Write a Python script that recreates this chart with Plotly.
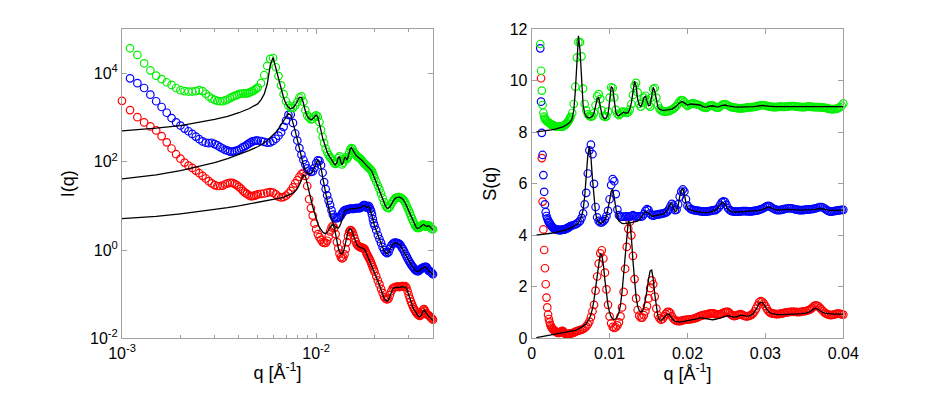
import plotly.graph_objects as go

# ---------------- data (q in units of 1e-3 A^-1) ----------------
q_data_milli = [
    1.0, 1.1, 1.2, 1.3, 1.4, 1.5, 1.6, 1.7, 1.8, 1.9,
    2.0, 2.1, 2.2, 2.3, 2.4, 2.5, 2.6, 2.7, 2.8, 2.9,
    3.0, 3.1, 3.2, 3.3, 3.4, 3.5, 3.6, 3.7, 3.8, 3.9,
    4.0, 4.1, 4.2, 4.3, 4.4, 4.5, 4.6, 4.7, 4.8, 4.9,
    5.0,
    5.2, 5.4, 5.6, 5.8, 6.0,
    6.2, 6.4, 6.6, 6.8, 7.0, 7.2, 7.4, 7.6, 7.8, 8.0,
    8.2, 8.4, 8.6, 8.8, 9.0, 9.2, 9.4, 9.6, 9.8, 10.0,
    10.2, 10.4, 10.6, 10.8, 11.0, 11.2, 11.4, 11.6, 11.8, 12.0,
    12.2, 12.4, 12.6, 12.8, 13.0, 13.2, 13.4, 13.6, 13.8, 14.0,
    14.2, 14.4, 14.6, 14.8, 15.0, 15.2, 15.4, 15.6, 15.8, 16.0,
    16.2, 16.4, 16.6, 16.8, 17.0, 17.2, 17.4, 17.6, 17.8, 18.0,
    18.2, 18.4, 18.6, 18.8, 19.0, 19.2, 19.4, 19.6, 19.8, 20.0,
    20.4, 20.8, 21.2, 21.6, 22.0, 22.4, 22.8, 23.2, 23.6, 24.0,
    24.4, 24.8, 25.2, 25.6, 26.0, 26.4, 26.8, 27.2, 27.6, 28.0,
    28.4, 28.8, 29.2, 29.6, 30.0, 30.4, 30.8, 31.2, 31.6, 32.0,
    32.4, 32.8, 33.2, 33.6, 34.0, 34.4, 34.8, 35.2, 35.6, 36.0,
    36.4, 36.8, 37.2, 37.6, 38.0, 38.4, 38.8, 39.2, 39.6, 40.0,
]
# S(q) data are sampled more finely above 0.02 (linear axis)
q_S_milli = q_data_milli[:116] + [
    20.2, 20.4, 20.6, 20.8, 21.0, 21.2, 21.4, 21.6, 21.8, 22.0,
    22.2, 22.4, 22.6, 22.8, 23.0, 23.2, 23.4, 23.6, 23.8, 24.0,
    24.2, 24.4, 24.6, 24.8, 25.0, 25.2, 25.4, 25.6, 25.8, 26.0,
    26.2, 26.4, 26.6, 26.8, 27.0, 27.2, 27.4, 27.6, 27.8, 28.0,
    28.2, 28.4, 28.6, 28.8, 29.0, 29.2, 29.4, 29.6, 29.8, 30.0,
    30.2, 30.4, 30.6, 30.8, 31.0, 31.2, 31.4, 31.6, 31.8, 32.0,
    32.2, 32.4, 32.6, 32.8, 33.0, 33.2, 33.4, 33.6, 33.8, 34.0,
    34.2, 34.4, 34.6, 34.8, 35.0, 35.2, 35.4, 35.6, 35.8, 36.0,
    36.2, 36.4, 36.6, 36.8, 37.0, 37.2, 37.4, 37.6, 37.8, 38.0,
    38.2, 38.4, 38.6, 38.8, 39.0, 39.2, 39.4, 39.6, 39.8, 40.0,
]
q_fit_milli = [
    0.6, 1.0, 1.5, 2.0, 2.5, 3.0, 3.5, 4.0, 4.5, 5.0,
] + q_data_milli[41:]

# log10 I(q), measured
logI_green = [
    None, 4.57, 4.42, 4.23, 4.07, 3.95, 3.87, 3.80, 3.74, 3.67,
    3.62, 3.60, 3.59, 3.59, 3.60, 3.62, 3.60, 3.54, 3.48, 3.43,
    3.40, 3.38, 3.37, 3.37, 3.39, 3.41, 3.44, 3.47, 3.49, 3.51,
    3.53, 3.54, 3.55, 3.55, 3.55, 3.56, 3.58, 3.60, 3.62, 3.65,
    3.68,
    3.78, 3.96, 4.17, 4.33, 4.35,
    4.14, 3.94, 3.73, 3.53, 3.37, 3.27, 3.22, 3.22, 3.27, 3.35,
    3.45, 3.48, 3.36, 3.17, 3.05, 3.00, 2.96, 2.97, 3.02, 3.05,
    3.02, 2.90, 2.72, 2.56, 2.42, 2.30, 2.22, 2.15, 2.10, 2.07,
    2.02, 1.97, 1.95, 1.98, 2.08, 2.12, 2.02, 1.94, 1.98, 2.06,
    2.10, 2.06, 2.10, 2.20, 2.28, 2.31, 2.29, 2.22, 2.19, 2.16,
    2.13, 2.11, 2.09, 2.08, 2.06, 2.03, 2.00, 1.97, 1.95, 1.93,
    1.91, 1.89, 1.87, 1.85, 1.83, 1.81, 1.78, 1.73, 1.68, 1.63,
    1.55, 1.46, 1.38, 1.28, 1.18, 1.08, 1.00, 0.96, 0.95, 0.98,
    1.04, 1.10, 1.14, 1.17, 1.19, 1.20, 1.20, 1.19, 1.17, 1.15,
    1.12, 1.07, 1.01, 0.95, 0.90, 0.84, 0.77, 0.71, 0.65, 0.60,
    0.55, 0.52, 0.50, 0.50, 0.50, 0.52, 0.55, 0.57, 0.58, 0.57,
    0.55, 0.53, 0.53, 0.55, 0.56, 0.55, 0.52, 0.49, 0.47, 0.47,
]
logI_blue = [
    None, 3.89, 3.78, 3.67, 3.52, 3.37, 3.24, 3.11, 2.99, 2.89,
    2.82, 2.75, 2.69, 2.63, 2.57, 2.51, 2.46, 2.43, 2.42, 2.43,
    2.40, 2.37, 2.33, 2.30, 2.27, 2.25, 2.23, 2.23, 2.24, 2.25,
    2.27, 2.30, 2.33, 2.35, 2.38, 2.41, 2.44, 2.46, 2.47, 2.48,
    2.48,
    2.47, 2.45, 2.43, 2.44, 2.47,
    2.52, 2.59, 2.67, 2.79, 2.93, 3.06, 3.07, 2.88, 2.64, 2.48,
    2.31, 2.16, 2.04, 1.94, 1.85, 1.80, 1.77, 1.78, 1.86, 1.97,
    2.03, 2.02, 1.92, 1.75, 1.54, 1.38, 1.24, 1.12, 1.02, 0.90,
    0.80, 0.74, 0.72, 0.72, 0.73, 0.74, 0.78, 0.83, 0.87, 0.90,
    0.91, 0.91, 0.92, 0.93, 0.93, 0.94, 0.93, 0.93, 0.94, 0.95,
    0.95, 0.95, 0.95, 0.95, 0.96, 0.98, 1.00, 1.02, 1.02, 1.00,
    0.96, 0.97, 1.00, 0.98, 0.93, 0.88, 0.80, 0.70, 0.61, 0.55,
    0.45, 0.34, 0.25, 0.16, 0.07, 0.00, -0.05, -0.07, -0.05, 0.03,
    0.10, 0.14, 0.16, 0.17, 0.16, 0.15, 0.14, 0.11, 0.06, 0.02,
    -0.03, -0.09, -0.14, -0.19, -0.24, -0.28, -0.32, -0.36, -0.39, -0.42,
    -0.45, -0.47, -0.48, -0.48, -0.46, -0.44, -0.42, -0.41, -0.40, -0.39,
    -0.38, -0.38, -0.40, -0.44, -0.47, -0.48, -0.49, -0.51, -0.53, -0.55,
]
logI_red = [
    3.38, 3.17, 3.01, 2.89, 2.80, 2.71, 2.58, 2.44, 2.30, 2.17,
    2.07, 1.98, 1.91, 1.86, 1.80, 1.74, 1.68, 1.62, 1.56, 1.51,
    1.47, 1.45, 1.45, 1.46, 1.49, 1.51, 1.52, 1.52, 1.50, 1.47,
    1.43, 1.39, 1.34, 1.30, 1.27, 1.24, 1.22, 1.22, 1.23, 1.24,
    1.26,
    1.27, 1.28, 1.30, 1.31, 1.30,
    1.26, 1.21, 1.19, 1.20, 1.23, 1.28, 1.34, 1.42, 1.51, 1.58,
    1.66, 1.72, 1.75, 1.68, 1.45, 1.15, 0.95, 0.78, 0.60, 0.47,
    0.36, 0.29, 0.23, 0.18, 0.16, 0.16, 0.21, 0.30, 0.42, 0.51,
    0.55, 0.50, 0.36, 0.18, 0.04, -0.08, -0.16, -0.19, -0.17, -0.10,
    0.02, 0.18, 0.32, 0.41, 0.45, 0.44, 0.40, 0.33, 0.26, 0.19,
    0.13, 0.10, 0.08, 0.07, 0.06, 0.05, 0.05, 0.04, 0.02, -0.03,
    -0.08, -0.12, -0.16, -0.20, -0.24, -0.29, -0.34, -0.39, -0.44, -0.49,
    -0.59, -0.69, -0.78, -0.88, -0.97, -1.06, -1.10, -1.12, -1.10, -1.02,
    -0.93, -0.87, -0.85, -0.84, -0.83, -0.83, -0.84, -0.83, -0.82, -0.82,
    -0.83, -0.82, -0.85, -0.93, -1.02, -1.10, -1.17, -1.23, -1.29, -1.34,
    -1.38, -1.42, -1.45, -1.47, -1.49, -1.49, -1.46, -1.40, -1.35, -1.34,
    -1.38, -1.43, -1.46, -1.47, -1.48, -1.50, -1.52, -1.54, -1.56, -1.58,
]

# log10 I(q), model fit
logI_fit_green = [
    None, 2.70, 2.76, 2.82, 2.89, 2.96, 3.03, 3.11, 3.20, 3.31,
    3.40, 3.53, 3.76, 4.18, 4.36,
    4.12, 3.87, 3.64, 3.45, 3.31, 3.23, 3.20, 3.22, 3.28, 3.37,
    3.46, 3.46, 3.33, 3.15, 3.03, 2.98, 2.95, 2.97, 3.03, 3.06,
    3.01, 2.88, 2.70, 2.54, 2.41, 2.30, 2.22, 2.15, 2.09, 2.05,
    2.00, 1.95, 1.93, 1.98, 2.10, 2.11, 2.00, 1.93, 1.99, 2.08,
    2.10, 2.04, 2.10, 2.22, 2.30, 2.32, 2.28, 2.21, 2.18, 2.15,
    2.13, 2.11, 2.09, 2.08, 2.06, 2.04, 2.01, 1.98, 1.96, 1.94,
    1.92, 1.90, 1.88, 1.86, 1.84, 1.81, 1.78, 1.73, 1.67, 1.62,
    1.54, 1.45, 1.37, 1.27, 1.17, 1.07, 0.99, 0.95, 0.95, 0.98,
    1.04, 1.10, 1.14, 1.17, 1.19, 1.20, 1.20, 1.19, 1.17, 1.15,
    1.11, 1.06, 1.00, 0.94, 0.89, 0.83, 0.77, 0.71, 0.65, 0.59,
    0.54, 0.51, 0.49, 0.49, 0.50, 0.52, 0.55, 0.57, 0.58, 0.57,
    0.55, 0.53, 0.53, 0.54, 0.55, 0.54, 0.51, 0.49, 0.47, 0.46,
]
logI_fit_blue = [
    None, 1.61, 1.70, 1.80, 1.89, 1.98, 2.07, 2.16, 2.25, 2.34,
    2.38, 2.43, 2.48, 2.54, 2.60,
    2.67, 2.75, 2.84, 2.94, 3.03, 3.09, 3.06, 2.90, 2.70, 2.50,
    2.30, 2.10, 1.92, 1.80, 1.74, 1.72, 1.74, 1.79, 1.88, 1.98,
    2.04, 2.00, 1.86, 1.65, 1.45, 1.27, 1.10, 0.95, 0.82, 0.71,
    0.62, 0.56, 0.52, 0.50, 0.50, 0.53, 0.60, 0.70, 0.80, 0.87,
    0.90, 0.91, 0.92, 0.93, 0.93, 0.93, 0.93, 0.93, 0.94, 0.94,
    0.95, 0.95, 0.95, 0.95, 0.96, 0.98, 1.00, 1.01, 1.01, 0.99,
    0.96, 0.97, 0.99, 0.97, 0.92, 0.86, 0.78, 0.69, 0.60, 0.54,
    0.44, 0.33, 0.24, 0.15, 0.06, -0.02, -0.07, -0.09, -0.06, 0.02,
    0.09, 0.13, 0.15, 0.16, 0.16, 0.15, 0.13, 0.10, 0.06, 0.01,
    -0.04, -0.10, -0.15, -0.20, -0.25, -0.29, -0.33, -0.37, -0.40, -0.43,
    -0.46, -0.48, -0.49, -0.49, -0.47, -0.45, -0.43, -0.41, -0.40, -0.39,
    -0.38, -0.39, -0.41, -0.45, -0.48, -0.49, -0.50, -0.52, -0.54, -0.56,
]
logI_fit_red = [
    None, 0.71, 0.76, 0.82, 0.87, 0.92, 0.96, 1.00, 1.04, 1.08,
    1.09, 1.10, 1.12, 1.13, 1.14,
    1.16, 1.17, 1.18, 1.20, 1.22, 1.24, 1.26, 1.29, 1.33, 1.39,
    1.48, 1.60, 1.70, 1.68, 1.52, 1.33, 1.15, 0.98, 0.83, 0.70,
    0.60, 0.51, 0.45, 0.41, 0.38, 0.38, 0.40, 0.45, 0.51, 0.56,
    0.57, 0.50, 0.36, 0.19, 0.05, -0.04, -0.08, -0.08, -0.04, 0.05,
    0.18, 0.32, 0.42, 0.47, 0.48, 0.45, 0.38, 0.30, 0.22, 0.16,
    0.12, 0.09, 0.07, 0.06, 0.05, 0.05, 0.04, 0.03, 0.01, -0.04,
    -0.09, -0.13, -0.17, -0.21, -0.25, -0.30, -0.35, -0.40, -0.45, -0.50,
    -0.60, -0.70, -0.80, -0.90, -1.00, -1.09, -1.14, -1.16, -1.13, -1.04,
    -0.94, -0.88, -0.86, -0.85, -0.84, -0.84, -0.85, -0.84, -0.83, -0.83,
    -0.84, -0.84, -0.87, -0.95, -1.04, -1.12, -1.19, -1.25, -1.31, -1.36,
    -1.40, -1.44, -1.47, -1.50, -1.51, -1.51, -1.48, -1.42, -1.37, -1.36,
    -1.39, -1.44, -1.47, -1.49, -1.50, -1.52, -1.54, -1.56, -1.58, -1.60,
]

# S(q), measured (grid q_S_milli)
S_green = [
    None, 11.43, 10.39, 9.62, 9.06, 8.76, 8.61, 8.53, 8.48, 8.45,
    8.42, 8.39, 8.37, 8.35, 8.33, 8.31, 8.29, 8.27, 8.26, 8.25,
    8.24, 8.23, 8.23, 8.22, 8.22, 8.22, 8.22, 8.22, 8.22, 8.22,
    8.23, 8.25, 8.27, 8.29, 8.32, 8.35, 8.39, 8.43, 8.48, 8.54,
    8.60,
    8.75, 9.10, 9.77, 10.90, 11.50,
    11.50, 10.95, 9.70, 9.10, 8.85, 8.70, 8.64, 8.61, 8.63, 8.75,
    9.05, 9.40, 9.48, 9.30, 8.85, 8.64, 8.60, 8.62, 8.80, 9.35,
    9.75, 9.72, 9.35, 8.87, 8.72, 8.67, 8.72, 8.79, 8.80, 8.77,
    8.75, 8.78, 8.88, 9.10, 9.45, 9.80, 9.92, 9.55, 9.10, 9.00,
    9.15, 9.35, 9.42, 9.25, 9.05, 9.00, 9.35, 9.68, 9.72, 9.35,
    9.05, 8.92, 8.85, 8.82, 8.80, 8.80, 8.82, 8.82, 8.85, 8.88,
    8.92, 8.97, 9.03, 9.12, 9.20, 9.25, 9.24, 9.17, 9.08, 9.02,
    9.06, 9.10, 9.12, 9.12, 9.10, 9.08, 9.07, 9.05, 9.01, 8.98,
    8.96, 8.95, 8.99, 9.03, 9.05, 9.05, 9.01, 8.98, 8.96, 8.96,
    9.01, 9.06, 9.09, 9.10, 9.07, 9.04, 9.01, 8.98, 8.97, 8.96,
    8.95, 8.94, 8.93, 8.93, 8.93, 8.94, 8.95, 8.96, 8.97, 8.97,
    8.98, 8.98, 8.99, 9.00, 9.02, 9.03, 9.05, 9.06, 9.05, 9.04,
    9.02, 9.01, 9.00, 8.99, 8.98, 8.98, 8.98, 8.99, 9.00, 9.00,
    8.99, 8.99, 9.00, 9.00, 9.01, 9.02, 9.02, 9.02, 9.01, 9.00,
    8.99, 8.99, 8.98, 8.98, 8.98, 8.99, 9.00, 9.00, 9.00, 8.99,
    8.98, 8.98, 8.98, 8.98, 8.97, 8.97, 8.96, 8.96, 8.94, 8.93,
    8.91, 8.90, 8.90, 8.90, 8.91, 8.92, 8.95, 8.98, 9.04, 9.12,
]
S_blue = [
    None, 11.26, 9.19, 7.98, 7.12, 6.34, 5.69, 5.20, 4.90, 4.75,
    4.66, 4.58, 4.52, 4.47, 4.42, 4.38, 4.34, 4.31, 4.28, 4.26,
    4.24, 4.23, 4.22, 4.21, 4.21, 4.21, 4.20, 4.20, 4.21, 4.21,
    4.22, 4.22, 4.23, 4.24, 4.25, 4.27, 4.28, 4.30, 4.32, 4.34,
    4.36,
    4.38, 4.40, 4.42, 4.45, 4.50,
    4.56, 4.68, 4.85, 5.20, 5.65, 6.40, 7.30, 7.52, 7.15, 6.00,
    5.10, 4.70, 4.56, 4.50, 4.50, 4.55, 4.62, 4.75, 4.95, 5.40,
    5.95, 6.18, 6.10, 5.60, 5.00, 4.78, 4.72, 4.72, 4.72, 4.73,
    4.74, 4.72, 4.72, 4.75, 4.78, 4.74, 4.72, 4.74, 4.74, 4.72,
    4.74, 4.82, 4.95, 5.02, 4.98, 4.85, 4.78, 4.76, 4.78, 4.80,
    4.80, 4.82, 4.83, 4.84, 4.86, 4.88, 4.92, 5.00, 5.12, 5.22,
    5.15, 4.98, 5.00, 5.20, 5.50, 5.70, 5.78, 5.70, 5.40, 5.15,
    5.08, 5.02, 5.00, 4.98, 4.97, 4.96, 4.95, 4.94, 4.93, 4.92,
    4.92, 4.92, 4.93, 4.94, 4.95, 4.97, 4.98, 4.98, 5.02, 5.08,
    5.18, 5.28, 5.32, 5.30, 5.18, 5.05, 4.99, 4.95, 4.93, 4.92,
    4.92, 4.92, 4.92, 4.93, 4.94, 4.94, 4.94, 4.94, 4.93, 4.93,
    4.93, 4.94, 4.95, 4.96, 4.97, 4.99, 5.01, 5.03, 5.06, 5.10,
    5.13, 5.14, 5.12, 5.08, 5.04, 5.01, 4.99, 4.98, 4.98, 4.99,
    5.00, 5.02, 5.03, 5.04, 5.05, 5.05, 5.04, 5.03, 5.01, 5.00,
    4.99, 4.98, 4.98, 4.98, 4.99, 5.00, 5.00, 5.01, 5.01, 5.02,
    5.03, 5.04, 5.06, 5.08, 5.10, 5.10, 5.08, 5.04, 5.00, 4.96,
    4.93, 4.92, 4.93, 4.94, 4.95, 4.96, 4.97, 4.98, 4.99, 4.99,
]
S_red = [
    None, None, 10.10, 7.00, 5.31, 4.23, 3.43, 2.72, 2.10, 1.58,
    1.20, 0.92, 0.75, 0.62, 0.52, 0.45, 0.40, 0.36, 0.33, 0.30,
    0.28, 0.26, 0.24, 0.22, 0.21, 0.21, 0.22, 0.24, 0.27, 0.29,
    0.28, 0.25, 0.21, 0.18, 0.16, 0.15, 0.15, 0.16, 0.17, 0.18,
    0.19,
    0.20, 0.22, 0.25, 0.28, 0.30,
    0.32, 0.34, 0.36, 0.40, 0.46, 0.54, 0.65, 0.82, 1.05, 1.30,
    1.85, 2.40, 2.90, 3.30, 3.42, 3.10, 2.55, 1.90, 1.30, 0.85,
    0.58, 0.44, 0.40, 0.43, 0.50, 0.62, 0.85, 1.20, 1.80, 2.70,
    3.55, 4.25, 4.53, 4.00, 3.20, 2.30, 1.55, 1.10, 0.88, 0.80,
    0.80, 0.90, 1.05, 1.25, 1.55, 1.95, 2.25, 2.10, 1.62, 1.15,
    0.90, 0.78, 0.72, 0.75, 0.85, 0.95, 1.02, 1.03, 0.98, 0.85,
    0.76, 0.70, 0.68, 0.67, 0.67, 0.68, 0.70, 0.71, 0.72, 0.73,
    0.73, 0.74, 0.75, 0.76, 0.78, 0.80, 0.83, 0.86, 0.88, 0.90,
    0.91, 0.92, 0.94, 0.96, 0.97, 0.97, 0.96, 0.94, 0.93, 0.92,
    0.94, 0.96, 0.99, 1.02, 1.03, 1.03, 0.98, 0.92, 0.88, 0.86,
    0.88, 0.90, 0.92, 0.94, 0.92, 0.88, 0.86, 0.85, 0.86, 0.88,
    0.91, 0.96, 1.04, 1.15, 1.28, 1.40, 1.44, 1.42, 1.35, 1.25,
    1.14, 1.05, 1.00, 0.97, 0.96, 0.95, 0.94, 0.94, 0.95, 0.96,
    0.97, 0.99, 1.00, 1.01, 1.02, 1.03, 1.03, 1.03, 1.03, 1.02,
    1.02, 1.02, 1.03, 1.04, 1.05, 1.06, 1.08, 1.10, 1.13, 1.18,
    1.24, 1.28, 1.27, 1.24, 1.18, 1.12, 1.06, 1.00, 0.96, 0.93,
    0.91, 0.90, 0.91, 0.92, 0.94, 0.96, 0.96, 0.95, 0.93, 0.92,
]

# S(q), model fit
S_fit_green = [
    8.02, 8.03, 8.05, 8.07, 8.09, 8.12, 8.16, 8.21, 8.29, 8.42,
    8.55, 8.85, 9.60, 10.80, 11.75,
    11.20, 9.80, 9.05, 8.75, 8.62, 8.57, 8.56, 8.58, 8.63, 8.75,
    8.98, 9.30, 9.35, 9.00, 8.70, 8.57, 8.53, 8.56, 8.72, 9.20,
    9.78, 9.70, 9.10, 8.78, 8.66, 8.65, 8.70, 8.76, 8.78, 8.75,
    8.74, 8.78, 8.90, 9.15, 9.55, 9.98, 9.80, 9.30, 9.05, 9.00,
    9.13, 9.35, 9.40, 9.18, 9.03, 9.05, 9.40, 9.75, 9.60, 9.20,
    8.98, 8.90, 8.86, 8.85, 8.85, 8.86, 8.87, 8.86, 8.88, 8.90,
    8.94, 8.98, 9.02, 9.10, 9.16, 9.19, 9.18, 9.13, 9.08, 9.06,
    9.10, 9.09, 9.08, 9.06, 9.00, 8.97, 9.02, 9.03, 9.00, 8.99,
    9.04, 9.06, 9.03, 9.00, 8.99, 8.98, 8.98, 8.98, 8.98, 8.99,
    9.00, 9.01, 9.03, 9.04, 9.03, 9.01, 9.00, 9.00, 9.00, 9.00,
    9.00, 9.00, 9.00, 9.00, 9.00, 9.00, 9.00, 9.00, 9.00, 9.00,
    9.00, 9.00, 9.00, 9.00, 9.00, 9.00, 9.00, 9.00, 9.00, 9.00,
]
S_fit_blue = [
    4.01, 4.02, 4.04, 4.06, 4.08, 4.10, 4.13, 4.17, 4.22, 4.28,
    4.31, 4.34, 4.38, 4.43, 4.49,
    4.58, 4.72, 5.00, 5.50, 6.30, 7.10, 7.45, 7.05, 6.20, 5.35,
    4.85, 4.60, 4.50, 4.47, 4.48, 4.52, 4.60, 4.75, 5.00, 5.35,
    5.70, 5.78, 5.45, 4.95, 4.68, 4.55, 4.49, 4.46, 4.45, 4.45,
    4.46, 4.47, 4.48, 4.49, 4.50, 4.51, 4.52, 4.55, 4.60, 4.68,
    4.78, 4.88, 4.92, 4.90, 4.84, 4.78, 4.75, 4.74, 4.75, 4.76,
    4.77, 4.78, 4.80, 4.82, 4.85, 4.90, 4.98, 5.10, 5.22, 5.20,
    5.02, 4.92, 4.95, 5.15, 5.50, 5.75, 5.80, 5.60, 5.25, 5.05,
    4.98, 4.94, 4.92, 4.90, 4.88, 4.88, 4.90, 4.93, 4.98, 5.10,
    5.28, 5.22, 5.00, 4.92, 4.90, 4.90, 4.91, 4.92, 4.93, 4.93,
    4.94, 4.95, 4.97, 5.00, 5.06, 5.10, 5.06, 5.00, 4.98, 4.98,
    5.00, 5.01, 5.01, 5.00, 4.99, 4.98, 4.98, 4.99, 5.00, 5.00,
    5.01, 5.03, 5.04, 5.01, 4.98, 4.97, 4.97, 4.98, 4.98, 4.98,
]
S_fit_red = [
    0.03, 0.05, 0.08, 0.10, 0.13, 0.16, 0.18, 0.20, 0.23, 0.26,
    0.27, 0.29, 0.31, 0.33, 0.36,
    0.39, 0.42, 0.46, 0.51, 0.57, 0.65, 0.76, 0.92, 1.15, 1.50,
    1.95, 2.50, 3.00, 3.28, 3.25, 2.85, 2.25, 1.70, 1.28, 1.00,
    0.83, 0.75, 0.73, 0.76, 0.85, 1.00, 1.30, 1.80, 2.50, 3.30,
    4.05, 4.55, 4.50, 3.90, 3.00, 2.20, 1.60, 1.25, 1.08, 1.02,
    1.05, 1.18, 1.45, 1.85, 2.30, 2.62, 2.65, 2.30, 1.70, 1.15,
    0.85, 0.72, 0.70, 0.74, 0.82, 0.90, 0.95, 0.94, 0.86, 0.76,
    0.70, 0.66, 0.64, 0.63, 0.63, 0.64, 0.65, 0.66, 0.67, 0.68,
    0.70, 0.72, 0.75, 0.80, 0.78, 0.74, 0.72, 0.72, 0.74, 0.78,
    0.82, 0.86, 0.88, 0.84, 0.82, 0.84, 0.90, 0.88, 0.86, 0.87,
    0.95, 1.12, 1.36, 1.40, 1.22, 1.04, 0.96, 0.93, 0.92, 0.92,
    0.93, 0.93, 0.94, 0.94, 0.94, 0.95, 0.96, 0.98, 1.02, 1.10,
    1.17, 1.12, 1.03, 0.98, 0.96, 0.95, 0.94, 0.94, 0.94, 0.94,
]

x_ticks_left = [0.001, 0.01]
x_ticktext_left = ["10<sup>-3</sup>", "10<sup>-2</sup>"]
x_minor_left = [0.002, 0.003, 0.004, 0.005, 0.006, 0.007, 0.008, 0.009,
                0.02, 0.03, 0.04]
y_ticks_left = [1e-2, 1e0, 1e2, 1e4]
y_ticktext_left = ["10<sup>-2</sup>", "10<sup>0</sup>", "10<sup>2</sup>", "10<sup>4</sup>"]
x_ticks_right = [0, 0.01, 0.02, 0.03, 0.04]
x_ticktext_right = ["0", "0.01", "0.02", "0.03", "0.04"]
y_ticks_right = [0, 2, 4, 6, 8, 10, 12]

colors = {"red": "#ff0000", "blue": "#0000ff", "green": "#00f000"}

# ---------------- build ----------------
for arr in (logI_green, logI_blue, logI_red):
    assert len(arr) == len(q_data_milli), len(arr)
for arr in (S_green, S_blue, S_red):
    assert len(arr) == len(q_S_milli), len(arr)
for arr in (logI_fit_green, logI_fit_blue, logI_fit_red, S_fit_green, S_fit_blue, S_fit_red):
    assert len(arr) == len(q_fit_milli), len(arr)

q_data = [v / 1000.0 for v in q_data_milli]
q_S = [v / 1000.0 for v in q_S_milli]
q_fit = [v / 1000.0 for v in q_fit_milli]


def pw(vals):
    return [None if v is None else 10 ** v for v in vals]


series = [
    ("red", logI_red, logI_fit_red, S_red, S_fit_red),
    ("blue", logI_blue, logI_fit_blue, S_blue, S_fit_blue),
    ("green", logI_green, logI_fit_green, S_green, S_fit_green),
]

fig = go.Figure()


def marker_style(c):
    return dict(symbol="circle-open", size=7.5, color=c, line=dict(width=1.2, color=c))


for name, li, lif, s, sf in series:
    fig.add_trace(go.Scatter(x=q_data, y=pw(li), mode="markers", marker=marker_style(colors[name]),
                             xaxis="x", yaxis="y", cliponaxis=False, showlegend=False))
    fig.add_trace(go.Scatter(x=q_S, y=s, mode="markers", marker=marker_style(colors[name]),
                             xaxis="x2", yaxis="y2", cliponaxis=False, showlegend=False))
for name, li, lif, s, sf in series:
    fig.add_trace(go.Scatter(x=q_fit, y=pw(lif), mode="lines", line=dict(color="black", width=1.3),
                             xaxis="x", yaxis="y", showlegend=False))
    fig.add_trace(go.Scatter(x=q_fit, y=sf, mode="lines", line=dict(color="black", width=1.3),
                             xaxis="x2", yaxis="y2", showlegend=False))

FONT = "Arial, Liberation Sans, Helvetica, sans-serif"
axcol = "#a0a0a0"
common = dict(showline=True, linecolor=axcol, linewidth=1, mirror="allticks", ticks="inside",
              ticklen=5, tickcolor=axcol, tickwidth=1, showgrid=False, zeroline=False,
              tickfont=dict(family=FONT, size=16, color="black"), automargin=False)

# page body has an 8 px margin: figure is placed at (8, 8)
W, H, OFF = 925, 385, 8


def px_x(v):
    return (v - OFF) / W


def px_y(v):
    return 1 - (v - OFF) / H


ydom = [px_y(338.3), px_y(29.3)]

fig.update_layout(
    width=W, height=H,
    margin=dict(l=0, r=0, t=0, b=0),
    paper_bgcolor="white", plot_bgcolor="white",
    font=dict(family=FONT, color="black"),
    showlegend=False,
    xaxis=dict(common, type="log", range=[-3, -1.39794], domain=[px_x(122), px_x(433)], anchor="y",
               tickmode="array", tickvals=x_ticks_left, ticktext=x_ticktext_left,
               minor=dict(tickmode="array", tickvals=x_minor_left, ticks="inside", ticklen=3,
                          tickcolor=axcol),
               title=dict(text="q [Å<sup>-1</sup>]", font=dict(family=FONT, size=18), standoff=5)),
    yaxis=dict(common, type="log", range=[-2, 5], domain=ydom, anchor="x",
               tickmode="array", tickvals=y_ticks_left, ticktext=y_ticktext_left,
               title=dict(text="I(q)", font=dict(family=FONT, size=18), standoff=10)),
    xaxis2=dict(common, range=[0, 0.04], domain=[px_x(531.7), px_x(843.3)], anchor="y2",
                tickmode="array", tickvals=x_ticks_right, ticktext=x_ticktext_right,
                title=dict(text="q [Å<sup>-1</sup>]", font=dict(family=FONT, size=18), standoff=5)),
    yaxis2=dict(common, range=[0, 12], domain=ydom, anchor="x2",
                tickmode="array", tickvals=y_ticks_right,
                title=dict(text="S(q)", font=dict(family=FONT, size=18), standoff=8)),
)

fig.write_html("out.html")
